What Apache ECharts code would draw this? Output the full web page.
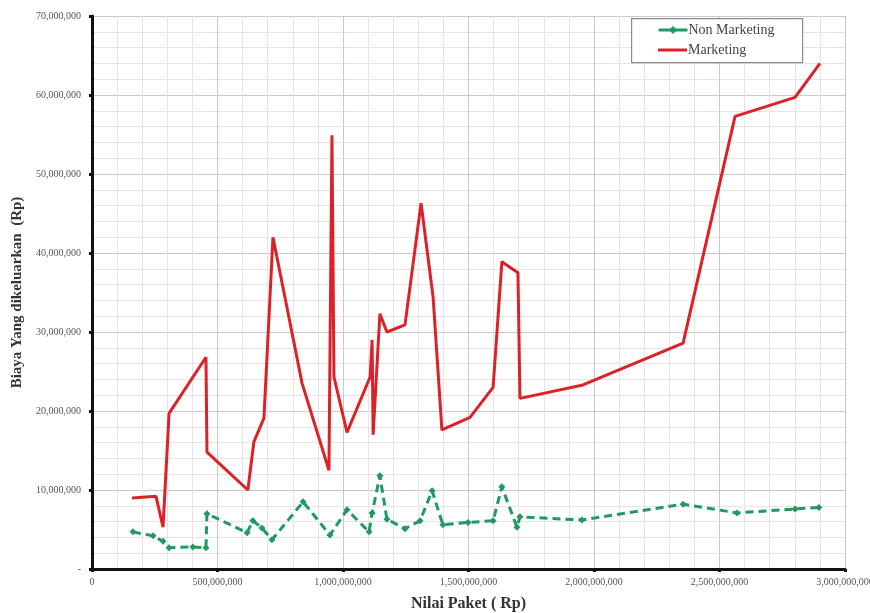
<!DOCTYPE html>
<html>
<head>
<meta charset="utf-8">
<script src="https://cdn.jsdelivr.net/npm/echarts@6/dist/echarts.min.js"></script>
<style>html,body{margin:0;padding:0;background:#fff}#c{width:870px;height:613px}</style>
</head>
<body>
<div id="c"></div>
<script>
var seriesNames = ["Non Marketing", "Marketing"];
var nonMarketingX = [163e6, 243e6, 283e6, 307e6, 402e6, 454e6, 458e6, 618e6, 641e6, 677e6, 717e6, 841e6, 948e6, 1016e6, 1104e6, 1116e6, 1147e6, 1175e6, 1247e6, 1307e6, 1355e6, 1398e6, 1498e6, 1598e6, 1633e6, 1693e6, 1705e6, 1952e6, 2355e6, 2570e6, 2801e6, 2896e6];
var nonMarketingY = [4.7e6, 4.2e6, 3.5e6, 2.7e6, 2.8e6, 2.7e6, 7.0e6, 4.6e6, 6.1e6, 5.2e6, 3.7e6, 8.5e6, 4.3e6, 7.5e6, 4.7e6, 7.1e6, 11.8e6, 6.3e6, 5.1e6, 6.1e6, 9.9e6, 5.6e6, 5.9e6, 6.1e6, 10.4e6, 5.3e6, 6.6e6, 6.2e6, 8.2e6, 7.1e6, 7.6e6, 7.8e6];
var marketingX = [159e6, 255e6, 283e6, 307e6, 454e6, 458e6, 621e6, 645e6, 685e6, 721e6, 837e6, 944e6, 956e6, 964e6, 1016e6, 1108e6, 1116e6, 1120e6, 1147e6, 1175e6, 1247e6, 1311e6, 1359e6, 1394e6, 1506e6, 1598e6, 1633e6, 1697e6, 1705e6, 1956e6, 2355e6, 2562e6, 2801e6, 2900e6];
var marketingY = [9.0e6, 9.2e6, 5.3e6, 19.7e6, 26.8e6, 14.8e6, 10.0e6, 16.1e6, 19.1e6, 42.0e6, 23.5e6, 12.5e6, 54.9e6, 24.3e6, 17.3e6, 24.3e6, 29.0e6, 17.0e6, 32.3e6, 30.0e6, 30.9e6, 46.3e6, 34.4e6, 17.6e6, 19.2e6, 23.0e6, 38.9e6, 37.5e6, 21.6e6, 23.3e6, 28.6e6, 57.3e6, 59.7e6, 64.0e6];
var xTickLabels = ["0", "500,000,000", "1,000,000,000", "1,500,000,000", "2,000,000,000", "2,500,000,000", "3,000,000,000"];
var yTickLabels = ["-", "10,000,000", "20,000,000", "30,000,000", "40,000,000", "50,000,000", "60,000,000", "70,000,000"];

function pairs(xs, ys) { return xs.map(function (x, i) { return [x, ys[i]]; }); }
var serif = '"Liberation Serif", "DejaVu Serif", serif';
var greenC = '#1f9a60', redC = '#db2229';

var chart = echarts.init(document.getElementById('c'), null, {renderer: 'canvas'});
var legendText = {fontFamily: serif, fontSize: 14, color: '#444', padding: [0, 0, 0, -4]};
chart.setOption({
  animation: false,
  backgroundColor: '#fff',
  grid: {left: 92, right: 25, top: 16, bottom: 44, containLabel: false, outerBoundsMode: 'none'},
  graphic: [{
    type: 'rect', left: 631, top: 18, z: 10,
    shape: {width: 171, height: 44},
    style: {fill: '#fff', stroke: '#8a8a8a', lineWidth: 1.2}
  }],
  legend: [{
    left: 657, top: 23, z: 20, itemWidth: 29, itemHeight: 10, padding: 0,
    lineStyle: {type: 'solid', width: 3},
    textStyle: legendText,
    data: [seriesNames[0]]
  }, {
    left: 658, top: 43, z: 20, itemWidth: 29, itemHeight: 3, padding: 0,
    textStyle: legendText,
    data: [{name: seriesNames[1], icon: 'rect'}]
  }],
  xAxis: {
    type: 'value', min: 0, max: 3000000000, interval: 500000000,
    name: 'Nilai Paket ( Rp)', nameLocation: 'middle', nameGap: 27,
    nameTextStyle: {fontFamily: serif, fontSize: 16, fontWeight: 'bold', color: '#333'},
    axisLine: {show: true, lineStyle: {color: '#111', width: 3}},
    axisTick: {show: true, length: 3, lineStyle: {color: '#111', width: 3}},
    axisLabel: {fontFamily: serif, fontSize: 10, color: '#555', margin: 8,
      formatter: function (v) { return xTickLabels[Math.round(v / 500000000)]; }},
    splitLine: {show: true, lineStyle: {color: '#c9c9c9', width: 1}},
    minorTick: {show: false, splitNumber: 5},
    minorSplitLine: {show: true, lineStyle: {color: '#ebe3e3', width: 1}}
  },
  yAxis: {
    type: 'value', min: 0, max: 70000000, interval: 10000000,
    name: 'Biaya Yang dikeluarkan  (Rp)', nameLocation: 'middle', nameGap: 66,
    nameTextStyle: {fontFamily: serif, fontSize: 15, fontWeight: 'bold', color: '#333'},
    axisLine: {show: true, lineStyle: {color: '#111', width: 3}},
    axisTick: {show: true, length: 3, lineStyle: {color: '#111', width: 3}},
    axisLabel: {fontFamily: serif, fontSize: 10, color: '#555', margin: 11,
      formatter: function (v) { return yTickLabels[Math.round(v / 10000000)]; }},
    splitLine: {show: true, lineStyle: {color: '#c9c9c9', width: 1}},
    minorTick: {show: false, splitNumber: 5},
    minorSplitLine: {show: true, lineStyle: {color: '#ebe3e3', width: 1}}
  },
  series: [{
    name: seriesNames[0], type: 'line', data: pairs(nonMarketingX, nonMarketingY),
    symbol: 'diamond', symbolSize: 7, showSymbol: true,
    itemStyle: {color: greenC},
    lineStyle: {color: greenC, width: 3, type: [8, 5]}, z: 3
  }, {
    name: seriesNames[1], type: 'line', data: pairs(marketingX, marketingY),
    symbol: 'none',
    itemStyle: {color: redC},
    lineStyle: {color: redC, width: 3}, z: 4
  }]
});
</script>
</body>
</html>
